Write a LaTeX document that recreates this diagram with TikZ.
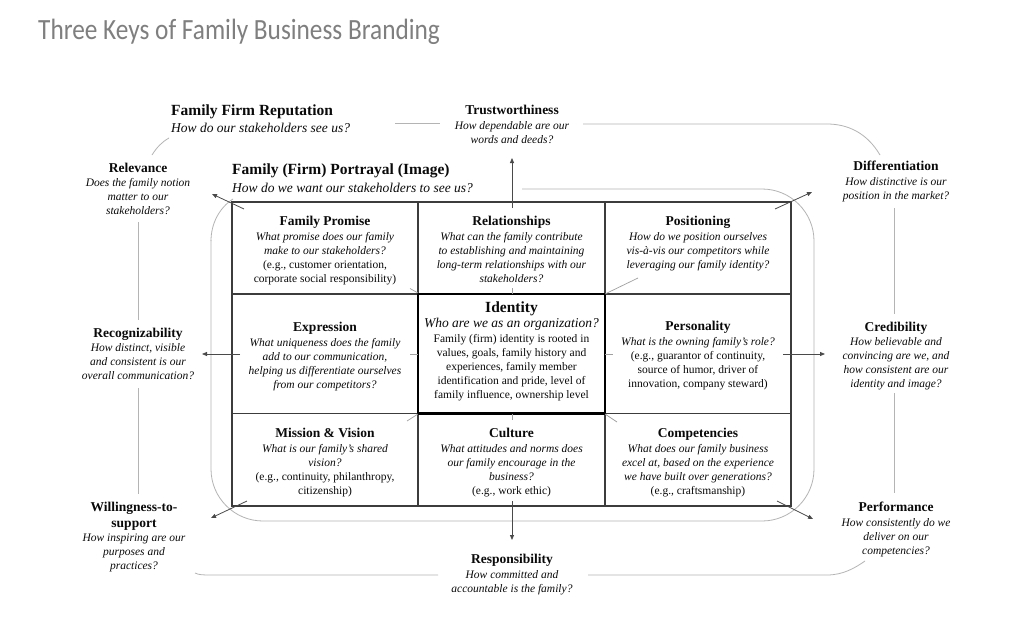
\documentclass[tikz,border=0pt]{standalone}
\usepackage{fontspec}
\usepackage{graphicx}
\setmainfont{Liberation Serif}
\newfontfamily\titlefont{Carlito}
\usetikzlibrary{arrows.meta}
\definecolor{txt}{HTML}{0A0A0A}
\definecolor{loopc}{HTML}{B4B4B4}
\definecolor{tickc}{HTML}{A0A0A0}
\definecolor{gridc}{HTML}{3C3C3C}
\definecolor{arrc}{HTML}{4A4A4A}
\definecolor{titlec}{HTML}{7F7F7F}
\newcommand{\hd}[1]{{\fontsize{13.5}{14}\selectfont\bfseries #1}}
\newcommand{\bighd}[1]{{\fontsize{15.5}{16}\selectfont\bfseries #1}}
\newcommand{\bigq}[1]{{\fontsize{13.5}{14}\selectfont\itshape #1}}
\newcommand{\q}[1]{\textit{#1}}
\tikzset{
  lbl/.style={align=center, inner sep=0pt, text=txt, font=\fontsize{11.5}{14}\selectfont, anchor=north},
  lblleft/.style={align=left, inner sep=0pt, text=txt, font=\fontsize{13.5}{17}\selectfont, anchor=north west},
  loopline/.style={draw=loopc, line width=0.8pt},
  arr/.style={draw=arrc, line width=0.8pt, -{Triangle[length=5pt,width=4pt]}},
  tickline/.style={draw=tickc, line width=0.7pt},
  gridline/.style={draw=gridc, line width=1.3pt},
}
\begin{document}
\begin{tikzpicture}[x=1pt,y=-1pt]
\useasboundingbox[fill=white] (0,0) rectangle (1021,632);

% title
\node[anchor=base west, inner sep=0pt, text=titlec, font=\titlefont\fontsize{25.3}{30}\selectfont] (title) at (38,39) {\scalebox{1}[1.16]{Three Keys of Family Business Branding}};

% loops (behind)
\draw[loopline, rounded corners=52pt] (522,189) -- (814,189) -- (814,521) -- (211,521) -- (211,240);
\draw[loopline] (211,241) .. controls (211,224) and (219,208) .. (233,199);

\draw[loopline] (395,123.5) -- (440,123.5);
\draw[loopline] (583,124) -- (827,124) .. controls (848,124) and (867,133) .. (880,155);
\draw[loopline] (152,155) .. controls (157,147) and (162,142) .. (169,138);
\draw[loopline] (138,222) -- (138,320);
\draw[loopline] (138,388) -- (138,494);
\draw[loopline] (195,573) .. controls (199,575) and (203,575) .. (212,575) -- (438,575);
\draw[loopline] (588,575) -- (827,575) .. controls (843,575) and (855,568) .. (865,561);
\draw[loopline] (894,208) -- (894,314);
\draw[loopline] (894,393) -- (894,493);

% grid
\draw[gridline] (232,202) rectangle (791,506);
\draw[gridline, line width=1.2pt] (418,202) -- (418,506) (605,202) -- (605,506)
  (232,294) -- (791,294) (232,413.5) -- (791,413.5);
\draw[black, line width=2.7pt] (418,294) rectangle (605,413.5);

% cell texts
\node[lbl] (promise) at (325,216) {\hd{Family Promise}\\[1pt]
  \q{What promise does our family}\\ \q{make to our stakeholders?}\\
  (e.g., customer orientation,\\ corporate social responsibility)};
\node[lbl] (relation) at (511.5,216) {\hd{Relationships}\\[1pt]
  \q{What can the family contribute}\\ \q{to establishing and maintaining}\\
  \q{long-term relationships with our}\\ \q{stakeholders?}};
\node[lbl] (position) at (698,216) {\hd{Positioning}\\[1pt]
  \q{How do we position ourselves}\\ \q{vis-à-vis our competitors while}\\
  \q{leveraging our family identity?}};
\node[lbl] (expression) at (325,322) {\hd{Expression}\\[1pt]
  \q{What uniqueness does the family}\\ \q{add to our communication,}\\
  \q{helping us differentiate ourselves}\\ \q{from our competitors?}};
\node[lbl] (identity) at (511.5,302) {\bighd{Identity}\\[1pt]
  \bigq{Who are we as an organization?}\\[1pt]
  Family (firm) identity is rooted in\\ values, goals, family history and\\
  experiences, family member\\ identification and pride, level of\\
  family influence, ownership level};
\node[lbl] (personality) at (698,321) {\hd{Personality}\\[1pt]
  \q{What is the owning family’s role?}\\ (e.g., guarantor of continuity,\\
  source of humor, driver of\\ innovation, company steward)};
\node[lbl] (mission) at (325,428) {\hd{Mission \& Vision}\\[1pt]
  \q{What is our family’s shared}\\ \q{vision?}\\
  (e.g., continuity, philanthropy,\\ citizenship)};
\node[lbl] (culture) at (511.5,428) {\hd{Culture}\\[1pt]
  \q{What attitudes and norms does}\\ \q{our family encourage in the}\\
  \q{business?}\\ (e.g., work ethic)};
\node[lbl] (competencies) at (698,428) {\hd{Competencies}\\[1pt]
  \q{What does our family business}\\ \q{excel at, based on the experience}\\
  \q{we have built over generations?}\\ (e.g., craftsmanship)};

% outer labels
\node[lblleft] (reputation) at (171,105) {\bighd{Family Firm Reputation}\\
  \q{How do our stakeholders see us?}};
\node[lblleft] (portrayal) at (232,164) {\bighd{Family (Firm) Portrayal (Image)}\\[1pt]
  \q{How do we want our stakeholders to see us?}};
\node[lbl] (trust) at (512,105) {\hd{Trustworthiness}\\[1pt]
  \q{How dependable are our}\\ \q{words and deeds?}};
\node[lbl] (relevance) at (138,163) {\hd{Relevance}\\[0pt]
  \q{Does the family notion}\\ \q{matter to our}\\ \q{stakeholders?}};
\node[lbl] (differentiation) at (896,161) {\hd{Differentiation}\\[1pt]
  \q{How distinctive is our}\\ \q{position in the market?}};
\node[lbl] (recognizability) at (138,328) {\hd{Recognizability}\\[0pt]
  \q{How distinct, visible}\\ \q{and consistent is our}\\ \q{overall communication?}};
\node[lbl] (credibility) at (896,322) {\hd{Credibility}\\[0pt]
  \q{How believable and}\\ \q{convincing are we, and}\\ \q{how consistent are our}\\ \q{identity and image?}};
\node[lbl] (willingness) at (134,502) {\hd{Willingness-to-}\\[2pt] \hd{support}\\[0pt]
  \q{How inspiring are our}\\ \q{purposes and}\\ \q{practices?}};
\node[lbl] (responsibility) at (512,554) {\hd{Responsibility}\\[1pt]
  \q{How committed and}\\ \q{accountable is the family?}};
\node[lbl] (performance) at (896,502) {\hd{Performance}\\[1pt]
  \q{How consistently do we}\\ \q{deliver on our}\\ \q{competencies?}};

% inner ticks near identity
\draw[tickline] (512,288) -- (512,294);
\draw[tickline] (410,288.5) -- (418,293);
\draw[tickline] (605,294) -- (638,278);
\draw[tickline] (410,354) -- (418,354);
\draw[tickline] (605,354) -- (613,354);
\draw[tickline] (418,414) -- (407,421);
\draw[tickline] (512,414) -- (512,420);
\draw[tickline] (605,414) -- (617,422);

% arrow coordinates and arrows
\coordinate (aU) at (512,208);   \coordinate (tU) at (512,158);
\coordinate (aUL) at (244,209);  \coordinate (tUL) at (212,194);
\coordinate (aUR) at (775,209);  \coordinate (tUR) at (812,192);
\coordinate (aL) at (240,354);   \coordinate (tL) at (202,354);
\coordinate (aR) at (783,354);   \coordinate (tR) at (825,354);
\coordinate (aDL) at (247,501);  \coordinate (tDL) at (211,518);
\coordinate (aD) at (512,501);   \coordinate (tD) at (512,540);
\coordinate (aDR) at (777,501);  \coordinate (tDR) at (813,519);
\draw[arr] (aU) -- (tU);
\draw[arr] (aUL) -- (tUL);
\draw[arr] (aUR) -- (tUR);
\draw[arr] (aL) -- (tL);
\draw[arr] (aR) -- (tR);
\draw[arr] (aDL) -- (tDL);
\draw[arr] (aD) -- (tD);
\draw[arr] (aDR) -- (tDR);
\end{tikzpicture}
\end{document}
